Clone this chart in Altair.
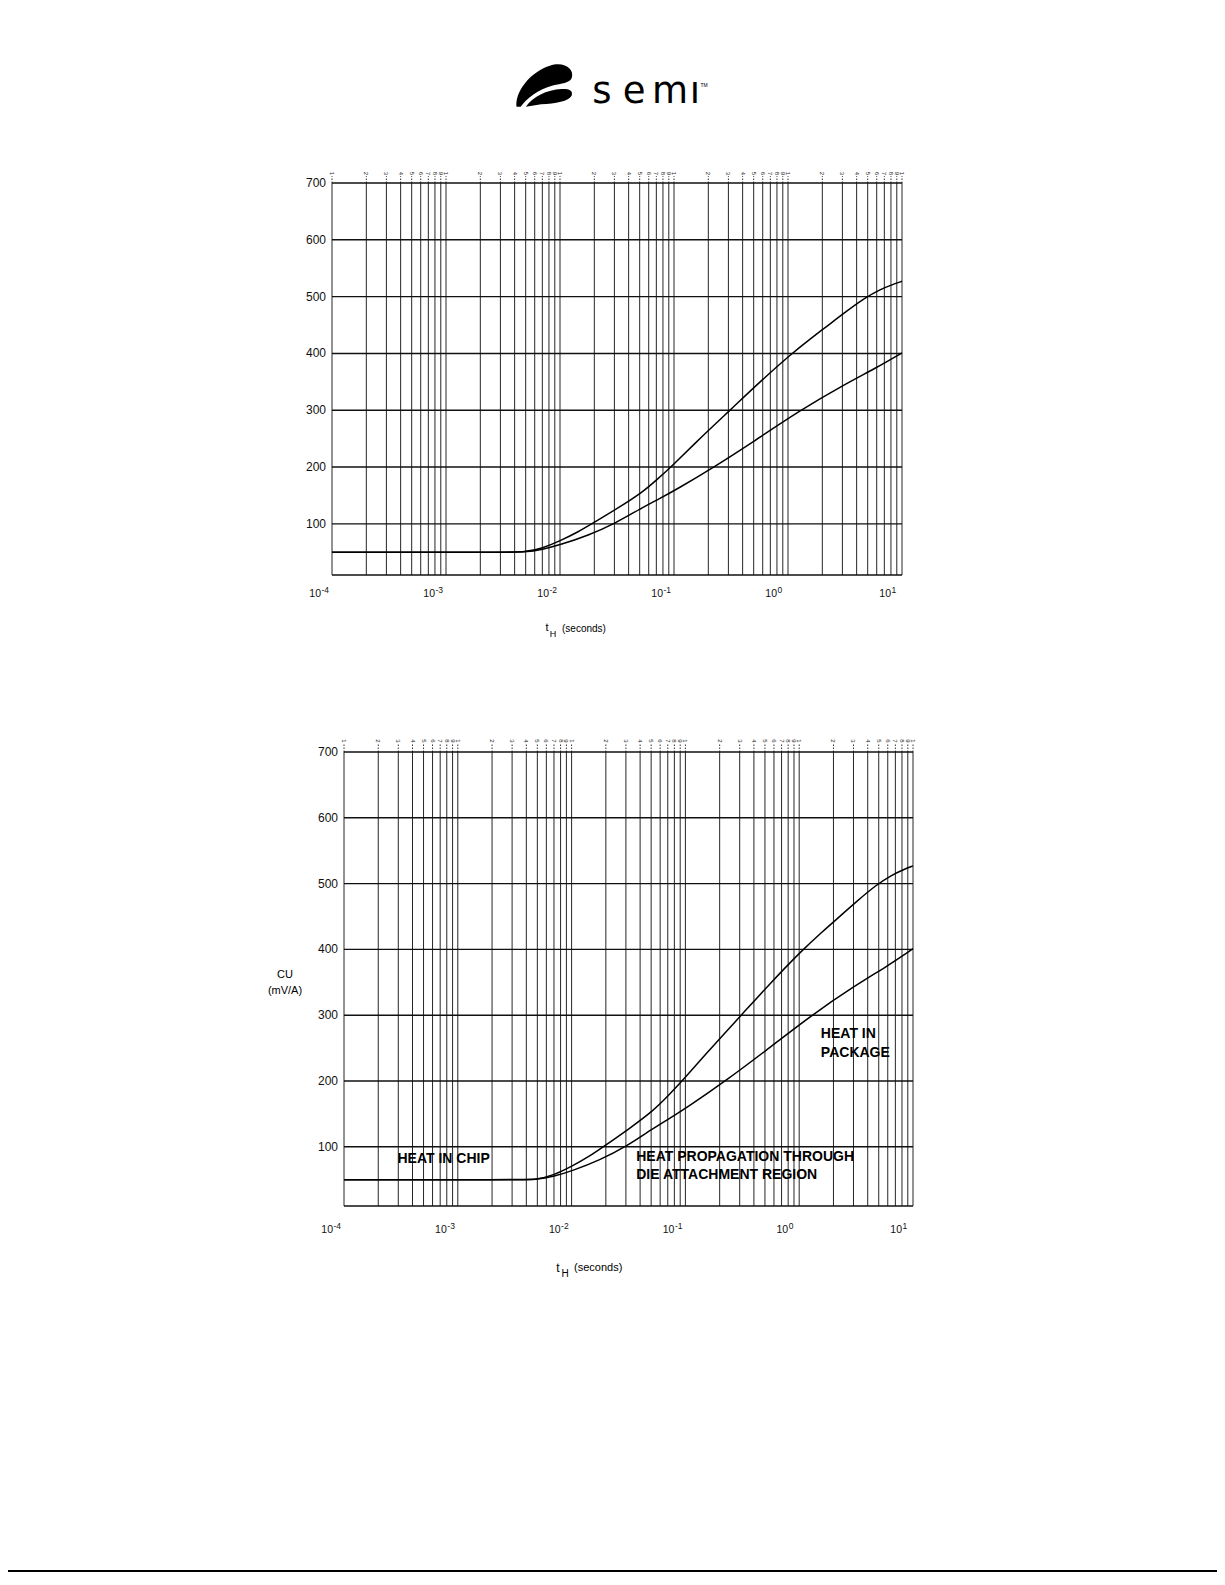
import altair as alt
import pandas as pd

FONT = "Liberation Sans"

# ---------------- data ----------------
t_upper = [1e-4, 3e-3, 5e-3, 7e-3, 1e-2, 1.45e-2, 1.9e-2, 3.3e-2, 5.25e-2,
           7.1e-2, 9.4e-2, 0.178, 0.31, 0.56, 1.05, 1.6, 2.2, 3.2, 4.75,
           6.5, 8.2, 10.0]
cu_upper = [50, 50, 50, 57, 70, 86, 100, 129, 155, 178, 200, 255, 300, 349,
            398, 427, 448, 473, 498, 513, 521, 527]

t_lower = [1e-4, 3e-3, 5e-3, 7e-3, 1e-2, 1.78e-2, 3.0e-2, 5.2e-2, 7.4e-2,
           0.104, 0.225, 0.5, 1.28, 3.1, 6.0, 10.0]
cu_lower = [50, 50, 50, 55, 63, 80, 100, 128, 144, 160, 200, 245, 300, 345,
            375, 401]

y_ticks = [100, 200, 300, 400, 500, 600, 700]
decade_exps = [-4, -3, -2, -1, 0, 1]
decade_sup = ["-4", "-3", "-2", "-1", "\u00a00", "\u00a01"]
cycle_digits = [1, 2, 3, 4, 5, 6, 7, 8, 9]

annot_text = ["HEAT IN CHIP", "HEAT IN", "PACKAGE",
              "HEAT PROPAGATION THROUGH", "DIE ATTACHMENT REGION"]
annot_t = [2.95e-4, 1.55, 1.55, 0.037, 0.037]
annot_cu = [82, 271, 242, 85, 57]

T_MIN, T_MAX = 1e-4, 10.0
CU_MIN, CU_MAX = 10, 700
TICK_TOP = 712     # top end of the dashed cycle ticks (value units)
DIGIT_Y = 717      # cycle digit position (value units)

# ---------------- tables ----------------
curves = pd.concat([
    pd.DataFrame({"t": t_upper, "cu": cu_upper, "series": "upper"}),
    pd.DataFrame({"t": t_lower, "cu": cu_lower, "series": "lower"}),
])

grid_rows = []
for d in range(-4, 1):
    for k in cycle_digits:
        grid_rows.append({"t": k * 10.0 ** d, "digit": str(k)})
grid_rows.append({"t": T_MAX, "digit": "1"})
grid = pd.DataFrame(grid_rows)
grid["lo"] = CU_MIN
grid["hi"] = CU_MAX
grid["tick"] = TICK_TOP
grid["dy"] = DIGIT_Y

hgrid = pd.DataFrame({"cu": y_ticks + [CU_MIN]})
hgrid["t0"] = T_MIN
hgrid["t1"] = T_MAX

ylabels = pd.DataFrame({"cu": y_ticks, "lab": [str(v) for v in y_ticks]})
ylabels["t0"] = T_MIN

xlabels = pd.DataFrame({"t": [10.0 ** e for e in decade_exps],
                        "sup": decade_sup})
xlabels["base"] = "10"
xlabels["y0"] = CU_MIN

annots = pd.DataFrame({"text": annot_text, "t": annot_t, "cu": annot_cu})

DUMMY = alt.Data(values=[{}])


def label(text, x, y, **kw):
    return alt.Chart(DUMMY).mark_text(text=text, **kw).encode(
        x=alt.value(x), y=alt.value(y))


def panel(xr, yr, xlab_dy, sup_dy, with_annots=False):
    xs = alt.Scale(type="log", domain=[T_MIN, T_MAX], range=xr, nice=False)
    ys = alt.Scale(type="linear", domain=[CU_MIN, CU_MAX], range=yr,
                   nice=False, zero=False)

    def X(f):
        return alt.X(f, type="quantitative", scale=xs, axis=None)

    def Y(f):
        return alt.Y(f, type="quantitative", scale=ys, axis=None)

    layers = []
    # vertical log-paper grid
    layers.append(alt.Chart(grid).mark_rule(color="#262626", strokeWidth=1)
                  .encode(x=X("t"), y=Y("lo"), y2="hi"))
    # dashed cycle ticks above the frame
    layers.append(alt.Chart(grid).mark_rule(color="#333", strokeWidth=1,
                                            strokeDash=[1.5, 1.5])
                  .encode(x=X("t"), y=Y("hi"), y2="tick"))
    # cycle digits
    layers.append(alt.Chart(grid).mark_text(angle=90, fontSize=6, font=FONT,
                                            color="#222", baseline="middle",
                                            align="center")
                  .encode(x=X("t"), y=Y("dy"), text="digit:N"))
    # horizontal grid
    layers.append(alt.Chart(hgrid).mark_rule(color="#111", strokeWidth=1.4)
                  .encode(x=X("t0"), x2="t1", y=Y("cu")))
    # curves
    layers.append(alt.Chart(curves).mark_line(color="black", strokeWidth=1.5,
                                              interpolate="basis")
                  .encode(x=X("t"), y=Y("cu"), detail="series:N"))
    # y labels
    layers.append(alt.Chart(ylabels).mark_text(align="right", baseline="middle",
                                               dx=-6, fontSize=12, font=FONT,
                                               color="#111")
                  .encode(x=X("t0"), y=Y("cu"), text="lab:N"))
    # x labels 10^n
    layers.append(alt.Chart(xlabels).mark_text(align="right",
                                               baseline="alphabetic",
                                               dx=-11, dy=xlab_dy, fontSize=10.5,
                                               font=FONT, color="#111")
                  .encode(x=X("t"), y=Y("y0"), text="base:N"))
    layers.append(alt.Chart(xlabels).mark_text(align="left",
                                               baseline="alphabetic",
                                               dx=-10.5, dy=sup_dy, fontSize=8.5,
                                               font=FONT, color="#111")
                  .encode(x=X("t"), y=Y("y0"), text="sup:N"))
    if with_annots:
        layers.append(alt.Chart(annots).mark_text(align="left",
                                                  baseline="middle",
                                                  fontSize=14,
                                                  fontWeight="bold",
                                                  font=FONT, color="black")
                      .encode(x=X("t"), y=Y("cu"), text="text:N"))
    return layers


layers = []
layers += panel([324, 894], [567, 175], 22, 18)
layers += panel([336, 905], [1198, 744], 27, 23, with_annots=True)

# axis titles
layers.append(label("t", 539, 620, fontSize=11, font=FONT, align="center",
                    baseline="middle"))
layers.append(label("H", 545, 626, fontSize=9, font=FONT, align="center",
                    baseline="middle"))
layers.append(label("(seconds)", 554, 620.5, fontSize=10, font=FONT,
                    align="left", baseline="middle"))

layers.append(label("t", 550, 1260, fontSize=12, font=FONT, align="center",
                    baseline="middle"))
layers.append(label("H", 557, 1266, fontSize=10, font=FONT, align="center",
                    baseline="middle"))
layers.append(label("(seconds)", 566, 1260, fontSize=11, font=FONT,
                    align="left", baseline="middle"))

layers.append(label("CU", 277, 967, fontSize=11, font=FONT, align="center",
                    baseline="middle"))
layers.append(label("(mV/A)", 277, 983, fontSize=11, font=FONT,
                    align="center", baseline="middle"))

# logo
SWOOSH = ("M -0.94 0.69 C -1.0 0.2 -0.5 -0.5 0.2 -0.72 "
          "C 0.7 -0.88 1.05 -0.6 0.95 -0.3 "
          "C 0.88 -0.12 0.6 -0.12 0.3 -0.04 "
          "C -0.2 0.1 -0.6 0.4 -0.8 0.69 Z "
          "M -0.62 0.69 C -0.4 0.35 0.1 0.1 0.6 0.08 "
          "C 0.85 0.07 1.0 0.12 0.95 0.3 "
          "C 0.85 0.5 0.4 0.58 -0.1 0.6 Z")
layers.append(alt.Chart(DUMMY).mark_point(shape=SWOOSH, filled=True,
                                          size=3411, color="black",
                                          opacity=1, strokeWidth=0)
              .encode(x=alt.value(536), y=alt.value(78.7)))
for ch, cx in zip(["s", "e", "m", "\u0131"], [594, 626, 662, 687]):
    layers.append(label(ch, cx, 95.3, fontSize=37, font="DejaVu Sans",
                        align="center", baseline="alphabetic", color="black"))
layers.append(label("TM", 696, 77, fontSize=5, font=FONT, align="center",
                    baseline="middle", color="black"))

# page bottom line
layers.append(alt.Chart(DUMMY).mark_rule(color="black", strokeWidth=2)
              .encode(x=alt.value(0), x2=alt.value(1209), y=alt.value(1563)))

chart = (alt.layer(*layers)
         .resolve_scale(x="independent", y="independent")
         .properties(width=1209, height=1565, padding=0,
                     autosize=alt.AutoSizeParams(type="none"),
                     background="white")
         .configure_view(strokeWidth=0))

chart.save("out.html", embed_options={"renderer": "svg", "actions": False})
